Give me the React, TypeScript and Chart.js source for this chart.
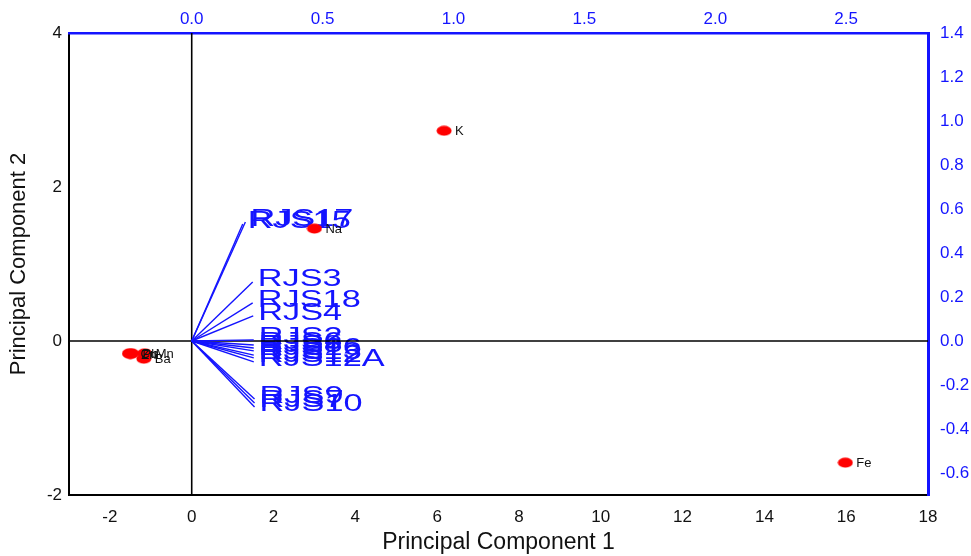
import React, { useEffect, useRef } from 'react';
import { Chart, registerables } from 'chart.js';

Chart.register(...registerables);

// Scores (bottom / left axes)
const pointNames = ['K', 'Na', 'Fe', 'Cu', 'Zn', 'Pb', 'Mn', 'Ba'];
const pointPC1 = [6.17, 3.0, 15.98, -1.52, -1.5, -1.47, -1.15, -1.17];
const pointPC2 = [2.73, 1.46, -1.58, -0.16, -0.17, -0.16, -0.16, -0.23];

// Loadings (top / right axes)
const vectorNames = ['RJS17', 'RJS15', 'RJS3', 'RJS18', 'RJS4', 'RJS2', 'RJS6', 'RJS8', 'RJS16', 'RJS13', 'RJS12', 'RJS12A', 'RJS9', 'RJS7', 'RJS10'];
const vectorX = [0.205, 0.195, 0.233, 0.233, 0.235, 0.237, 0.237, 0.237, 0.237, 0.237, 0.237, 0.237, 0.24, 0.24, 0.24];
const vectorY = [0.541, 0.532, 0.268, 0.173, 0.114, 0.005, -0.018, -0.032, -0.045, -0.064, -0.077, -0.095, -0.264, -0.282, -0.3];

// Axis ranges
const pc1Range = [-3, 18];
const pc2Range = [-2, 4];
const loadXRange = [-3 / 6.4, 18 / 6.4];
const loadYRange = [-0.7, 1.4];

const FONT = "'Liberation Sans', Arial, Helvetica, sans-serif";
const BLUE = '#1414ff';

function makeEllipse(): HTMLCanvasElement {
  const c = document.createElement('canvas');
  c.width = 16;
  c.height = 11;
  const ctx = c.getContext('2d')!;
  ctx.fillStyle = '#ff0000';
  ctx.beginPath();
  ctx.ellipse(8, 5.5, 7.5, 5, 0, 0, Math.PI * 2);
  ctx.fill();
  return c;
}

const fmt1 = (v: number) => (Math.abs(v) < 1e-9 ? '0.0' : Number(v).toFixed(1));

export default function App() {
  const ref = useRef<HTMLCanvasElement | null>(null);

  useEffect(() => {
    if (!ref.current) return;
    const ellipse = makeEllipse();

    const labelPlugin = {
      id: 'labels',
      beforeDatasetsDraw(chart: any) {
        const ctx = chart.ctx;
        const sx = chart.scales.x2;
        const sy = chart.scales.y2;
        ctx.save();
        ctx.fillStyle = BLUE;
        ctx.font = `24px ${FONT}`;
        ctx.textBaseline = 'middle';
        ctx.textAlign = 'left';
        vectorNames.forEach((n, i) => {
          const px = sx.getPixelForValue(vectorX[i]) + 5;
          const py = sy.getPixelForValue(vectorY[i]) - 3;
          ctx.save();
          ctx.translate(px, py);
          ctx.scale(1.43, 1);
          ctx.fillText(n, 0, 0);
          ctx.restore();
        });
        ctx.restore();
      },
      afterDatasetsDraw(chart: any) {
        const ctx = chart.ctx;
        const sx = chart.scales.x;
        const sy = chart.scales.y;
        ctx.save();
        ctx.fillStyle = '#111';
        ctx.font = `13px ${FONT}`;
        ctx.textBaseline = 'middle';
        ctx.textAlign = 'left';
        pointNames.forEach((n, i) => {
          const px = sx.getPixelForValue(pointPC1[i]) + 11;
          const py = sy.getPixelForValue(pointPC2[i]) + 1;
          ctx.fillText(n, px, py);
        });
        ctx.restore();
      },
    };

    const datasets: any[] = [];
    datasets.push({
      type: 'scatter',
      data: pointPC1.map((x, i) => ({ x, y: pointPC2[i] })),
      xAxisID: 'x',
      yAxisID: 'y',
      pointStyle: ellipse,
      pointRadius: 6,
      order: 0,
    });
    vectorNames.forEach((n, i) => {
      datasets.push({
        type: 'line',
        label: n,
        data: [
          { x: 0, y: 0 },
          { x: vectorX[i], y: vectorY[i] },
        ],
        xAxisID: 'x2',
        yAxisID: 'y2',
        borderColor: BLUE,
        borderWidth: 1.4,
        pointRadius: 0,
        fill: false,
        order: 2,
      });
    });
    datasets.push({
      type: 'line',
      data: [
        { x: 0, y: pc2Range[0] },
        { x: 0, y: pc2Range[1] },
      ],
      xAxisID: 'x',
      yAxisID: 'y',
      borderColor: '#000',
      borderWidth: 1.6,
      pointRadius: 0,
      order: 3,
    });
    datasets.push({
      type: 'line',
      data: [
        { x: pc1Range[0], y: 0 },
        { x: pc1Range[1], y: 0 },
      ],
      xAxisID: 'x',
      yAxisID: 'y',
      borderColor: '#000',
      borderWidth: 1.6,
      pointRadius: 0,
      order: 3,
    });

    const chart = new Chart(ref.current, {
      type: 'scatter',
      data: { datasets },
      plugins: [labelPlugin],
      options: {
        responsive: false,
        animation: false,
        layout: { padding: 0 },
        plugins: { legend: { display: false }, tooltip: { enabled: false } },
        scales: {
          x: {
            type: 'linear',
            position: 'bottom',
            min: pc1Range[0],
            max: pc1Range[1],
            afterFit: (s: any) => { s.height = 61; },
            ticks: { stepSize: 2, includeBounds: false, color: '#111', font: { family: FONT, size: 17 }, padding: 12 },
            grid: { drawOnChartArea: false, drawTicks: false },
            border: { color: '#000', width: 2 },
            title: { display: true, text: 'Principal Component 1', color: '#111', font: { family: FONT, size: 23 }, padding: 0 },
          },
          y: {
            type: 'linear',
            position: 'left',
            min: pc2Range[0],
            max: pc2Range[1],
            afterFit: (s: any) => { s.width = 69; },
            ticks: { stepSize: 2, includeBounds: false, color: '#111', font: { family: FONT, size: 17 }, padding: 7 },
            grid: { drawOnChartArea: false, drawTicks: false },
            border: { color: '#000', width: 2 },
            title: { display: true, text: 'Principal Component 2', color: '#111', font: { family: FONT, size: 22 }, padding: { top: 6, bottom: 0 } },
          },
          x2: {
            type: 'linear',
            position: 'top',
            min: loadXRange[0],
            max: loadXRange[1],
            afterFit: (s: any) => { s.height = 33; },
            ticks: { stepSize: 0.5, includeBounds: false, color: BLUE, font: { family: FONT, size: 17 }, padding: 3, callback: (v: any) => fmt1(v) },
            grid: { drawOnChartArea: false, drawTicks: false },
            border: { color: BLUE, width: 2.5 },
          },
          y2: {
            type: 'linear',
            position: 'right',
            min: loadYRange[0],
            max: loadYRange[1],
            afterFit: (s: any) => { s.width = 43; },
            ticks: { stepSize: 0.2, includeBounds: false, color: BLUE, font: { family: FONT, size: 17 }, padding: 12, callback: (v: any) => fmt1(v) },
            grid: { drawOnChartArea: false, drawTicks: false },
            border: { color: BLUE, width: 3 },
          },
        },
      } as any,
    });
    return () => chart.destroy();
  }, []);

  return (
    <div style={{ position: 'fixed', left: 0, top: 0, width: 971, height: 556, background: '#fff' }}>
      <canvas ref={ref} width={971} height={556} />
    </div>
  );
}
